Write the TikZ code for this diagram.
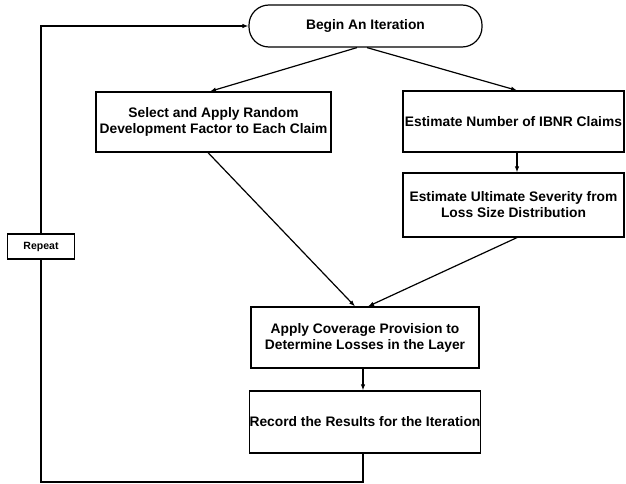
\documentclass[tikz,border=0pt]{standalone}
\usepackage{fontspec}
\setmainfont{Liberation Sans}
\usetikzlibrary{arrows.meta}
\begin{document}
\begin{tikzpicture}[x=1pt,y=-1pt,
  every node/.style={font=\bfseries\fontsize{13.8}{16}\selectfont, align=center, inner sep=0pt},
  procbox/.style={draw, line width=1.2pt, fill=white},
  startbox/.style={draw, line width=1.2pt, rounded corners=20pt, fill=white},
  smallbox/.style={draw, line width=1.2pt, fill=white, font=\bfseries\fontsize{10.5}{12}\selectfont},
  conn/.style={line width=1.2pt},
  arr/.style={conn, -{Latex[length=6pt,width=4.5pt]}}]
\useasboundingbox (0,0) rectangle (626,484);
\node[startbox, minimum width=233pt, minimum height=42pt] (begin) at (365.5,26) {Begin An Iteration};
\node[procbox, minimum width=235pt, minimum height=60pt] (sel) at (213.5,122) {Select and Apply Random\\Development Factor to Each Claim};
\node[procbox, minimum width=221pt, minimum height=61pt] (num) at (513.5,121.5) {Estimate Number of IBNR Claims};
\node[procbox, minimum width=221pt, minimum height=64pt] (sev) at (513.5,205) {Estimate Ultimate Severity from\\Loss Size Distribution};
\node[procbox, minimum width=228pt, minimum height=61pt] (cov) at (365,337.5) {Apply Coverage Provision to\\Determine Losses in the Layer};
\node[procbox, minimum width=228pt, minimum height=62pt] (rec) at (365,422) {Record the Results for the Iteration};
\node[smallbox, minimum width=67pt, minimum height=25pt] (rep) at (41,246.5) {Repeat};
\coordinate (lb) at (41,482);
\draw[arr] ([xshift=-8.5pt]begin.south) -- ([xshift=-3.5pt]sel.north);
\draw[arr] ([xshift=1.5pt]begin.south) -- ([xshift=3.5pt]num.north);
\draw[arr] ([xshift=3.5pt]num.south) -- ([xshift=3.5pt]sev.north);
\draw[arr] ([xshift=-5.5pt]sel.south) -- ([xshift=-10pt]cov.north);
\draw[arr] ([xshift=3.5pt]sev.south) -- ([xshift=3pt]cov.north);
\draw[arr] ([xshift=-2pt]cov.south) -- ([xshift=-2pt]rec.north);
\draw[conn] ([xshift=-2pt]rec.south) |- (lb) -- (rep.south);
\draw[arr] (rep.north) |- (begin.west);
\end{tikzpicture}
\end{document}
